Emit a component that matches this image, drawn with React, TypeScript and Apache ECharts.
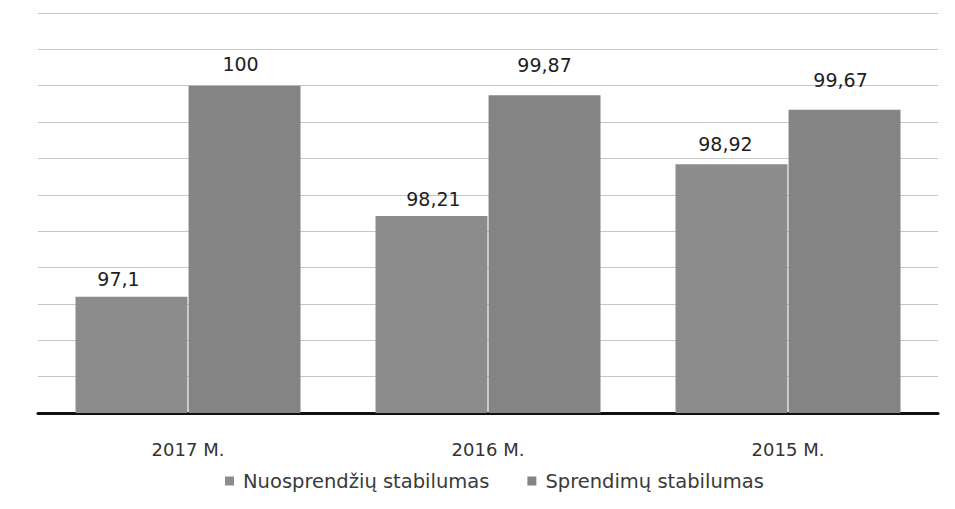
import React, { useEffect, useRef } from "react";
import * as echarts from "echarts";

const categories = ["2017 M.", "2016 M.", "2015 M."];
const seriesNames = ["Nuosprendžių stabilumas", "Sprendimų stabilumas"];
const nuosprendziu = [97.1, 98.21, 98.92];
const sprendimu = [100, 99.87, 99.67];
const labelTexts1 = ["97,1", "98,21", "98,92"];
const labelTexts2 = ["100", "99,87", "99,67"];
// label placement tweaks (style, not data)
const labelOffsets1 = [[-13, -4], [2, -3], [-6, -7]];
const labelOffsets2 = [[-4, -8], [0, -17], [-4, -16]];

const FONT = "'DejaVu Sans', sans-serif";

export default function App() {
  const ref = useRef<HTMLDivElement>(null);
  useEffect(() => {
    if (!ref.current) return;
    const chart = echarts.init(ref.current, null, { renderer: "svg" });
    const mk = (vals: number[], texts: string[], offs: number[][]) =>
      vals.map((v, i) => ({
        value: v,
        label: { formatter: texts[i], offset: offs[i] },
      }));
    chart.setOption({
      animation: false,
      backgroundColor: "#ffffff",
      textStyle: { fontFamily: FONT },
      grid: { left: 38, right: 17, top: 13, bottom: 96, containLabel: false },
      legend: {
        data: seriesNames,
        left: 220,
        top: 466,
        itemWidth: 9,
        itemHeight: 9,
        itemGap: 38,
        icon: "rect",
        textStyle: { fontFamily: FONT, fontSize: 19.5, color: "#3a3a3a", padding: [0, 0, 0, 4] },
      },
      xAxis: {
        type: "category",
        data: categories,
        axisLine: { show: true, lineStyle: { color: "#111111", width: 3 } },
        axisTick: { show: false },
        axisLabel: { fontFamily: FONT, fontSize: 18, color: "#333333", margin: 27 },
      },
      yAxis: {
        type: "value",
        min: 95.5,
        max: 101,
        interval: 0.5,
        axisLabel: { show: false },
        axisLine: { show: false },
        axisTick: { show: false },
        splitLine: { show: true, lineStyle: { color: "#c6c6c6", width: 1 } },
      },
      series: [
        {
          name: seriesNames[0],
          type: "bar",
          data: mk(nuosprendziu, labelTexts1, labelOffsets1),
          barCategoryGap: "25%",
          barGap: "1%",
          itemStyle: { color: "#8c8c8c" },
          label: {
            show: true,
            position: "top",
            distance: 4,
            fontFamily: FONT,
            fontSize: 19,
            color: "#1e1e1e",
          },
        },
        {
          name: seriesNames[1],
          type: "bar",
          data: mk(sprendimu, labelTexts2, labelOffsets2),
          barCategoryGap: "25%",
          barGap: "1%",
          itemStyle: { color: "#848484" },
          label: {
            show: true,
            position: "top",
            distance: 4,
            fontFamily: FONT,
            fontSize: 19,
            color: "#1e1e1e",
          },
        },
      ],
    });
    return () => chart.dispose();
  }, []);
  return <div ref={ref} style={{ width: 955, height: 509, position: "absolute", left: 0, top: 0 }} />;
}
